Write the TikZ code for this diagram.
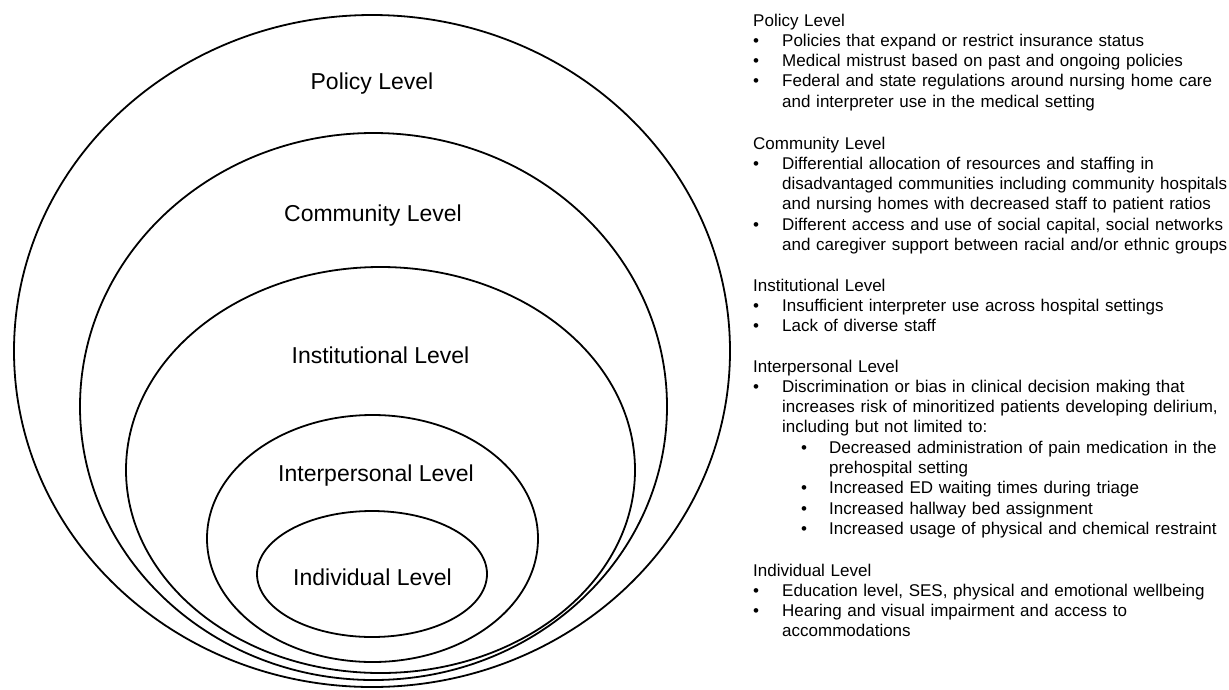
\documentclass[tikz,border=0pt]{standalone}
\usepackage{fontspec}
\setmainfont{Liberation Sans}
\usetikzlibrary{shapes.geometric,positioning}

% bullet lines of the lists on the right
\newcommand{\itm}[1]{\par\noindent\hangindent=29pt\hangafter=1\makebox[29pt][l]{\textbullet}#1\par}
\newcommand{\subitm}[1]{\par\noindent\hangindent=76pt\hangafter=1\hspace*{48pt}\makebox[28pt][l]{\textbullet}#1\par}

\tikzset{
    ring/.style={draw, ellipse, line width=1.8pt, inner sep=0pt},
    lvl/.style={font=\fontsize{23}{27}\selectfont, anchor=base, inner sep=0pt},
    lst/.style={font=\fontsize{17}{20.3}\selectfont, text width=500pt, align=left, anchor=base west, inner sep=0pt}
}

\begin{document}
\begin{tikzpicture}[x=1pt,y=-1pt]
            \useasboundingbox (0,0) rectangle (1229,689);

            \node[ring, minimum width=716pt, minimum height=672pt] (policy) at (372,351) {};
            \node[ring, minimum width=587pt, minimum height=547pt] (community) at (373.5,406.5) {};
            \node[ring, minimum width=509pt, minimum height=406pt] (institutional) at (380.5,470) {};
            \node[ring, minimum width=331pt, minimum height=247pt] (interpersonal) at (372.5,538.5) {};
            \node[ring, minimum width=230pt, minimum height=126pt] (individual) at (372,574) {};

            \node[lvl] (policy_lbl) at (372,89) {Policy Level};
            \node[lvl] (community_lbl) at (373,221.5) {Community Level};
            \node[lvl] (institutional_lbl) at (380.5,363) {Institutional Level};
            \node[lvl] (interpersonal_lbl) at (376,481.5) {Interpersonal Level};
            \node[lvl] (individual_lbl) at (372.5,585.5) {Individual Level};

            \node[lst] (policy_txt) at (753,26) {Policy Level
                \itm{Policies that expand or restrict insurance status}
                \itm{Medical mistrust based on past and ongoing policies}
                \itm{Federal and state regulations around nursing home care\newline and interpreter use in the medical setting}};

            \node[lst] (community_txt) at (753,149) {Community Level
                \itm{Differential allocation of resources and staffing in\newline disadvantaged communities including community hospitals\newline and nursing homes with decreased staff to patient ratios}
                \itm{Different access and use of social capital, social networks\newline and caregiver support between racial and/or ethnic groups}};

            \node[lst] (institutional_txt) at (753,291) {Institutional Level
                \itm{Insufficient interpreter use across hospital settings}
                \itm{Lack of diverse staff}};

            \node[lst] (interpersonal_txt) at (753,372) {Interpersonal Level
                \itm{Discrimination or bias in clinical decision making that\newline increases risk of minoritized patients developing delirium,\newline including but not limited to:}
                \subitm{Decreased administration of pain medication in the\newline prehospital setting}
                \subitm{Increased ED waiting times during triage}
                \subitm{Increased hallway bed assignment}
                \subitm{Increased usage of physical and chemical restraint}};

            \node[lst] (individual_txt) at (753,576) {Individual Level
                \itm{Education level, SES, physical and emotional wellbeing}
                \itm{Hearing and visual impairment and access to\newline accommodations}};
        \end{tikzpicture}
\end{document}
